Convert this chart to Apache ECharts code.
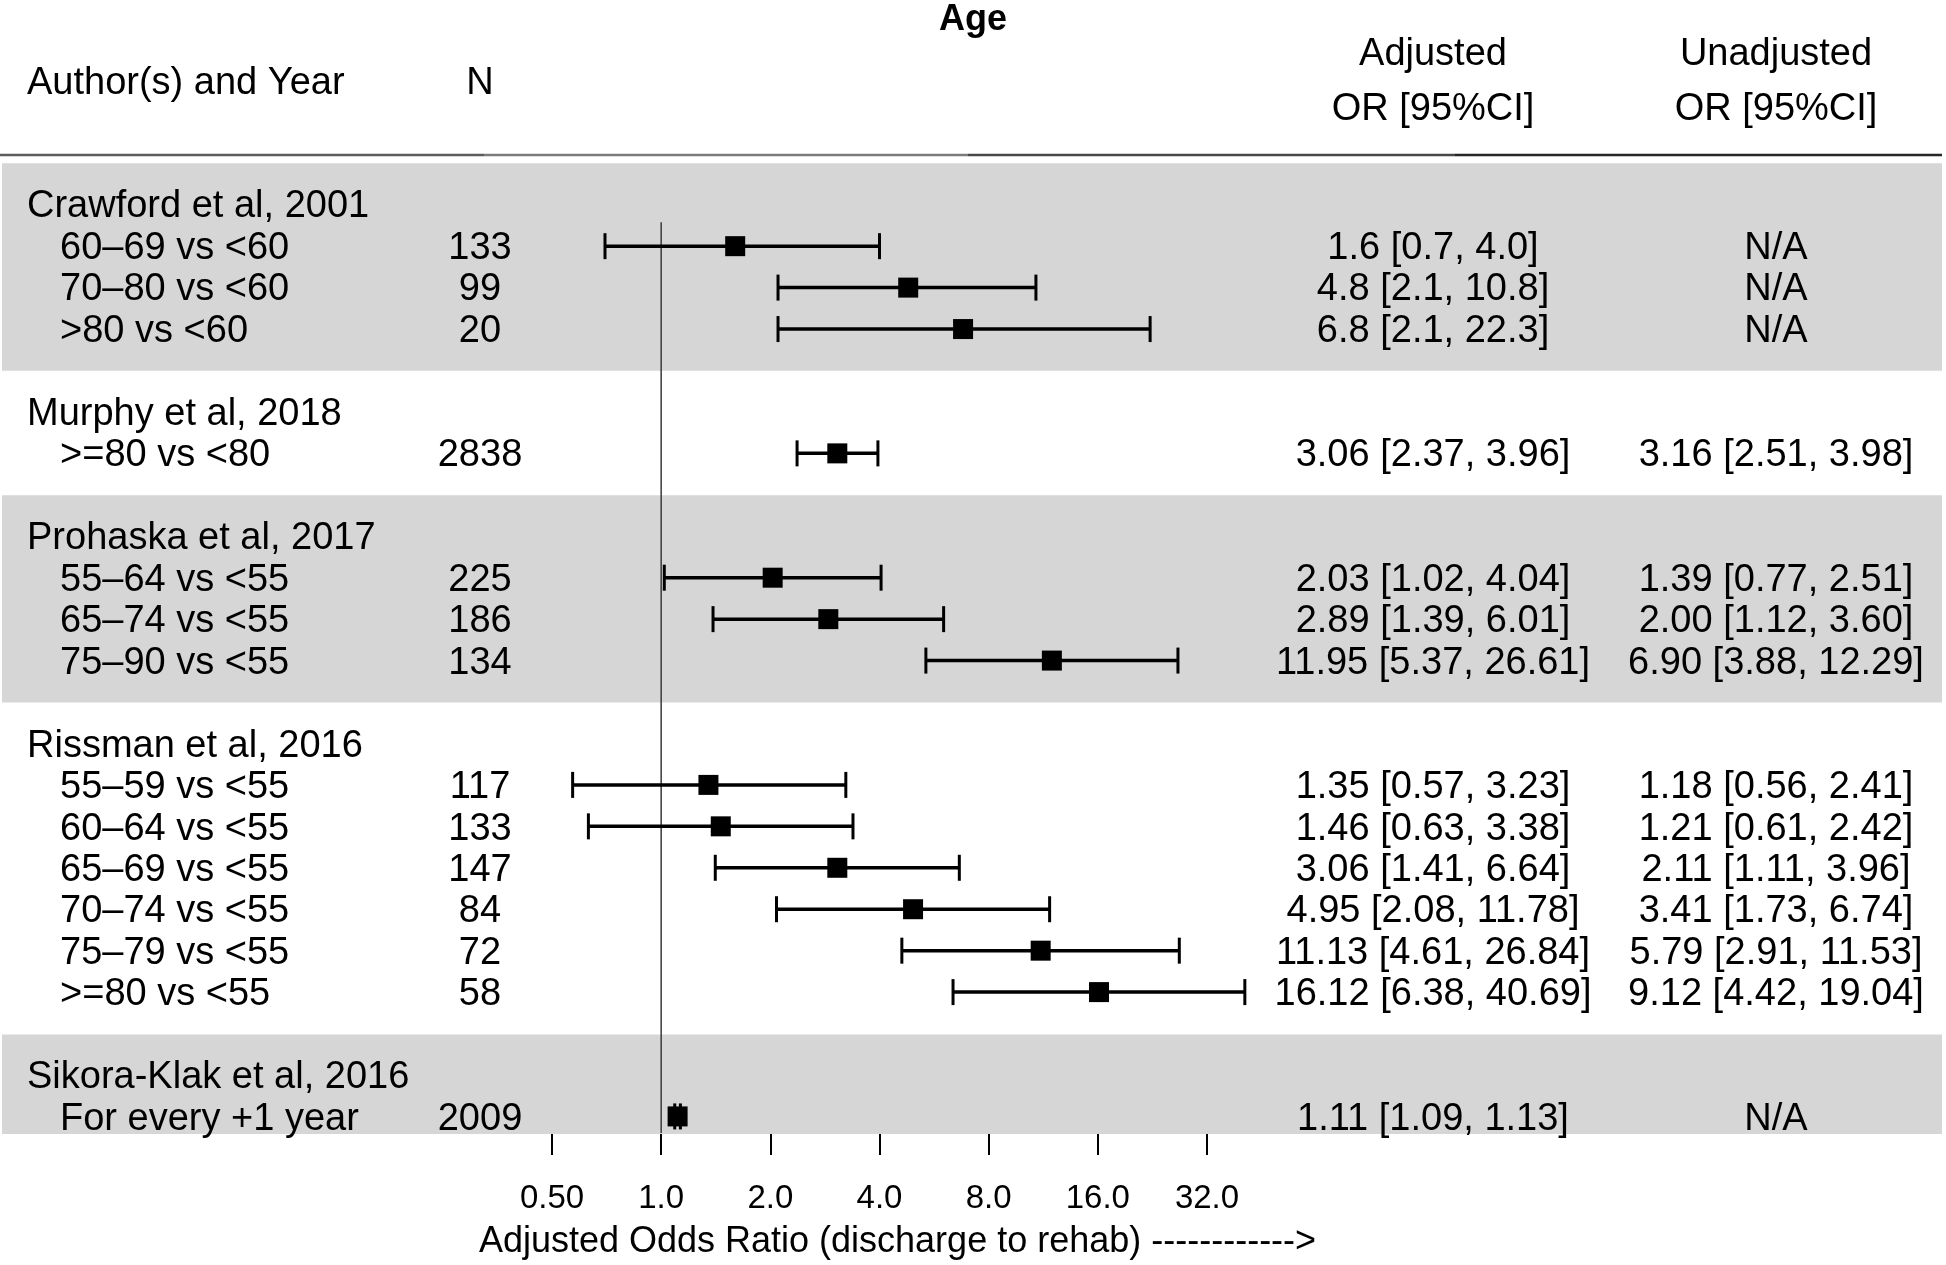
<!DOCTYPE html>
<html>
<head>
<meta charset="utf-8">
<script src="https://cdn.jsdelivr.net/npm/echarts@6/dist/echarts.min.js"></script>
<style>
  html, body { margin: 0; padding: 0; background: #ffffff; }
  #chart { width: 1946px; height: 1265px; }
</style>
</head>
<body>
<div id="chart"></div>
<script>
// ---------------- DATA ----------------
const chartTitle = 'Age';
const axisTitle = 'Adjusted Odds Ratio (discharge to rehab) ------------>';
const colHeaderStudy = 'Author(s) and Year';
const colHeaderN = 'N';
const colHeaderAdj = ['Adjusted', 'OR [95%CI]'];
const colHeaderUnadj = ['Unadjusted', 'OR [95%CI]'];
const naText = 'N/A';

const groups = ['Crawford et al, 2001', 'Murphy et al, 2018', 'Prohaska et al, 2017', 'Rissman et al, 2016', 'Sikora-Klak et al, 2016'];
const groupSizes = [3, 1, 3, 6, 1];
const groupDigits = [1, 2, 2, 2, 2];

const comparisons = [
  '60–69 vs <60', '70–80 vs <60', '>80 vs <60',
  '>=80 vs <80',
  '55–64 vs <55', '65–74 vs <55', '75–90 vs <55',
  '55–59 vs <55', '60–64 vs <55', '65–69 vs <55', '70–74 vs <55', '75–79 vs <55', '>=80 vs <55',
  'For every +1 year'
];
const sampleN = [133, 99, 20, 2838, 225, 186, 134, 117, 133, 147, 84, 72, 58, 2009];

const adjOR   = [1.6, 4.8, 6.8, 3.06, 2.03, 2.89, 11.95, 1.35, 1.46, 3.06, 4.95, 11.13, 16.12, 1.11];
const adjLow  = [0.7, 2.1, 2.1, 2.37, 1.02, 1.39, 5.37, 0.57, 0.63, 1.41, 2.08, 4.61, 6.38, 1.09];
const adjHigh = [4.0, 10.8, 22.3, 3.96, 4.04, 6.01, 26.61, 3.23, 3.38, 6.64, 11.78, 26.84, 40.69, 1.13];

const unadjOR   = [null, null, null, 3.16, 1.39, 2.00, 6.90, 1.18, 1.21, 2.11, 3.41, 5.79, 9.12, null];
const unadjLow  = [null, null, null, 2.51, 0.77, 1.12, 3.88, 0.56, 0.61, 1.11, 1.73, 2.91, 4.42, null];
const unadjHigh = [null, null, null, 3.98, 2.51, 3.60, 12.29, 2.41, 2.42, 3.96, 6.74, 11.53, 19.04, null];

const tickLabels = ['0.50', '1.0', '2.0', '4.0', '8.0', '16.0', '32.0'];
const axisMin = 0.5;
const axisMax = 32;
const refValue = 1;

// ---------------- LAYOUT / STYLE ----------------
const FONT = '"Liberation Sans", Arial, Helvetica, sans-serif';
const L = {
  gridTop: 155, gridH: 979,
  forestLeft: 552, forestW: 655,
  tableW: 1942,
  yMin: -1.2, yMax: 22.4,
  colGroup: 27, colLabel: 60, colN: 480, colAdj: 1433, colUnadj: 1776,
  bodySize: 38, tickSize: 33, nameSize: 36, titleSize: 36,
  textDy: 2,
  bandColor: '#d6d6d6', bandOffset: 0.0,
  refStart: 0.42,
  squareHalf: 10, capHalf: 13
};

// rows: header row, then one row per comparison, then blank row
const headerRows = [];
const itemRows = [];
const itemGroup = [];
(function () {
  let r = 0;
  groups.forEach((g, gi) => {
    headerRows.push(r); r++;
    for (let k = 0; k < groupSizes[gi]; k++) { itemRows.push(r); itemGroup.push(gi); r++; }
    r++;
  });
})();

function fmtCI(est, lo, hi, d) {
  if (est == null) return naText;
  return est.toFixed(d) + ' [' + lo.toFixed(d) + ', ' + hi.toFixed(d) + ']';
}

// shaded bands for alternate groups
const bands = [];
groups.forEach((g, gi) => {
  if (gi % 2 === 0) {
    const top = Math.max(L.yMin, headerRows[gi] - 1 + L.bandOffset);
    const bottom = Math.min(L.yMax, headerRows[gi] + groupSizes[gi] + 1 + L.bandOffset);
    bands.push([top, bottom]);
  }
});

// table cells
const cells = [];
groups.forEach((g, gi) => cells.push({ x: L.colGroup, row: headerRows[gi], text: g, align: 'left' }));
comparisons.forEach((c, i) => {
  const row = itemRows[i];
  const d = groupDigits[itemGroup[i]];
  cells.push({ x: L.colLabel, row, text: c, align: 'left' });
  cells.push({ x: L.colN, row, text: String(sampleN[i]), align: 'center' });
  cells.push({ x: L.colAdj, row, text: fmtCI(adjOR[i], adjLow[i], adjHigh[i], d), align: 'center' });
  cells.push({ x: L.colUnadj, row, text: fmtCI(unadjOR[i], unadjLow[i], unadjHigh[i], d), align: 'center' });
});

function textEl(x, y, text, align, size, weight) {
  return {
    type: 'text', x: x, y: y + L.textDy,
    style: {
      text: text, fill: '#000',
      fontSize: size, fontFamily: FONT, fontWeight: weight || 'normal',
      align: align, verticalAlign: 'middle',
      textAlign: align, textVerticalAlign: 'middle'
    }
  };
}

const chart = echarts.init(document.getElementById('chart'), null, { renderer: 'canvas' });

const option = {
  animation: false,
  backgroundColor: '#ffffff',
  title: {
    text: chartTitle, left: 'center', top: 2, padding: 0,
    textStyle: { fontSize: L.titleSize, fontWeight: 'bold', fontFamily: FONT, color: '#000' }
  },
  grid: [
    { left: L.forestLeft, top: L.gridTop, width: L.forestW, height: L.gridH, containLabel: false },
    { left: 0, top: L.gridTop, width: L.tableW, height: L.gridH, containLabel: false }
  ],
  xAxis: [
    {
      gridIndex: 0, type: 'log', logBase: 2, min: axisMin, max: axisMax,
      axisLine: { show: true, onZero: false, lineStyle: { color: '#000', width: 2 } },
      axisTick: { show: true, length: 22, lineStyle: { color: '#000', width: 2 } },
      axisLabel: {
        show: true, margin: 49, color: '#000', fontSize: L.tickSize, fontFamily: FONT,
        formatter: (v, i) => tickLabels[i] !== undefined ? tickLabels[i] : String(v)
      },
      splitLine: { show: false },
      minorTick: { show: false },
      name: axisTitle, nameLocation: 'middle', nameGap: 91,
      nameTextStyle: { color: '#000', fontSize: L.nameSize, fontFamily: FONT, padding: [0, 0, 0, 36] }
    },
    { gridIndex: 1, type: 'value', min: 0, max: L.tableW, show: false }
  ],
  yAxis: [
    { gridIndex: 0, type: 'value', inverse: true, min: L.yMin, max: L.yMax, show: false },
    { gridIndex: 1, type: 'value', inverse: true, min: L.yMin, max: L.yMax, show: false }
  ],
  graphic: [
    { type: 'line', z: 100, shape: { x1: 0, y1: L.gridTop, x2: 484, y2: L.gridTop }, style: { stroke: '#5c5c5c', lineWidth: 2.5 } },
    { type: 'line', z: 100, shape: { x1: 484, y1: L.gridTop, x2: 968, y2: L.gridTop }, style: { stroke: '#7c7c7c', lineWidth: 2.5 } },
    { type: 'line', z: 100, shape: { x1: 968, y1: L.gridTop, x2: 1455, y2: L.gridTop }, style: { stroke: '#484848', lineWidth: 2.5 } },
    { type: 'line', z: 100, shape: { x1: 1455, y1: L.gridTop, x2: L.tableW, y2: L.gridTop }, style: { stroke: '#262626', lineWidth: 2.5 } },
    textEl(L.colGroup, 82, colHeaderStudy, 'left', L.bodySize),
    textEl(L.colN, 82, colHeaderN, 'center', L.bodySize),
    textEl(L.colAdj, 53, colHeaderAdj[0], 'center', L.bodySize),
    textEl(L.colAdj, 108, colHeaderAdj[1], 'center', L.bodySize),
    textEl(L.colUnadj, 53, colHeaderUnadj[0], 'center', L.bodySize),
    textEl(L.colUnadj, 108, colHeaderUnadj[1], 'center', L.bodySize)
  ],
  series: [
    {
      name: 'bands', type: 'custom', xAxisIndex: 1, yAxisIndex: 1, z: 1, silent: true,
      data: bands,
      renderItem: function (params, api) {
        const p0 = api.coord([0, api.value(0)]);
        const p1 = api.coord([L.tableW, api.value(1)]);
        return {
          type: 'rect',
          shape: { x: p0[0] + 2, y: p0[1], width: p1[0] - p0[0] - 2, height: p1[1] - p0[1] },
          style: { fill: L.bandColor }
        };
      }
    },
    {
      name: 'table', type: 'custom', xAxisIndex: 1, yAxisIndex: 1, z: 5, silent: true,
      data: cells.map(c => [c.x, c.row]),
      renderItem: function (params, api) {
        const c = cells[params.dataIndex];
        const p = api.coord([api.value(0), api.value(1)]);
        return textEl(p[0], p[1], c.text, c.align, L.bodySize);
      }
    },
    {
      name: 'reference', type: 'custom', xAxisIndex: 0, yAxisIndex: 0, z: 3, silent: true, clip: false,
      data: [[refValue, L.refStart, L.yMax]],
      renderItem: function (params, api) {
        const a = api.coord([api.value(0), api.value(1)]);
        const b = api.coord([api.value(0), api.value(2)]);
        return { type: 'line', shape: { x1: a[0], y1: a[1], x2: b[0], y2: b[1] }, style: { stroke: '#3a3a3a', lineWidth: 1.5 } };
      }
    },
    {
      name: 'Adjusted OR', type: 'custom', xAxisIndex: 0, yAxisIndex: 0, z: 6, silent: true, clip: false,
      data: comparisons.map((c, i) => [adjOR[i], adjLow[i], adjHigh[i], itemRows[i]]),
      renderItem: function (params, api) {
        const row = api.value(3);
        const pm = api.coord([api.value(0), row]);
        const pl = api.coord([api.value(1), row]);
        const ph = api.coord([api.value(2), row]);
        const ch = L.capHalf, sh = L.squareHalf;
        return {
          type: 'group',
          children: [
            { type: 'line', shape: { x1: pl[0], y1: pl[1], x2: ph[0], y2: ph[1] }, style: { stroke: '#000', lineWidth: 3.5 } },
            { type: 'line', shape: { x1: pl[0], y1: pl[1] - ch, x2: pl[0], y2: pl[1] + ch }, style: { stroke: '#000', lineWidth: 3 } },
            { type: 'line', shape: { x1: ph[0], y1: ph[1] - ch, x2: ph[0], y2: ph[1] + ch }, style: { stroke: '#000', lineWidth: 3 } },
            { type: 'rect', shape: { x: pm[0] - sh, y: pm[1] - sh, width: 2 * sh, height: 2 * sh }, style: { fill: '#000' } }
          ]
        };
      }
    }
  ]
};

chart.setOption(option);
</script>
</body>
</html>
